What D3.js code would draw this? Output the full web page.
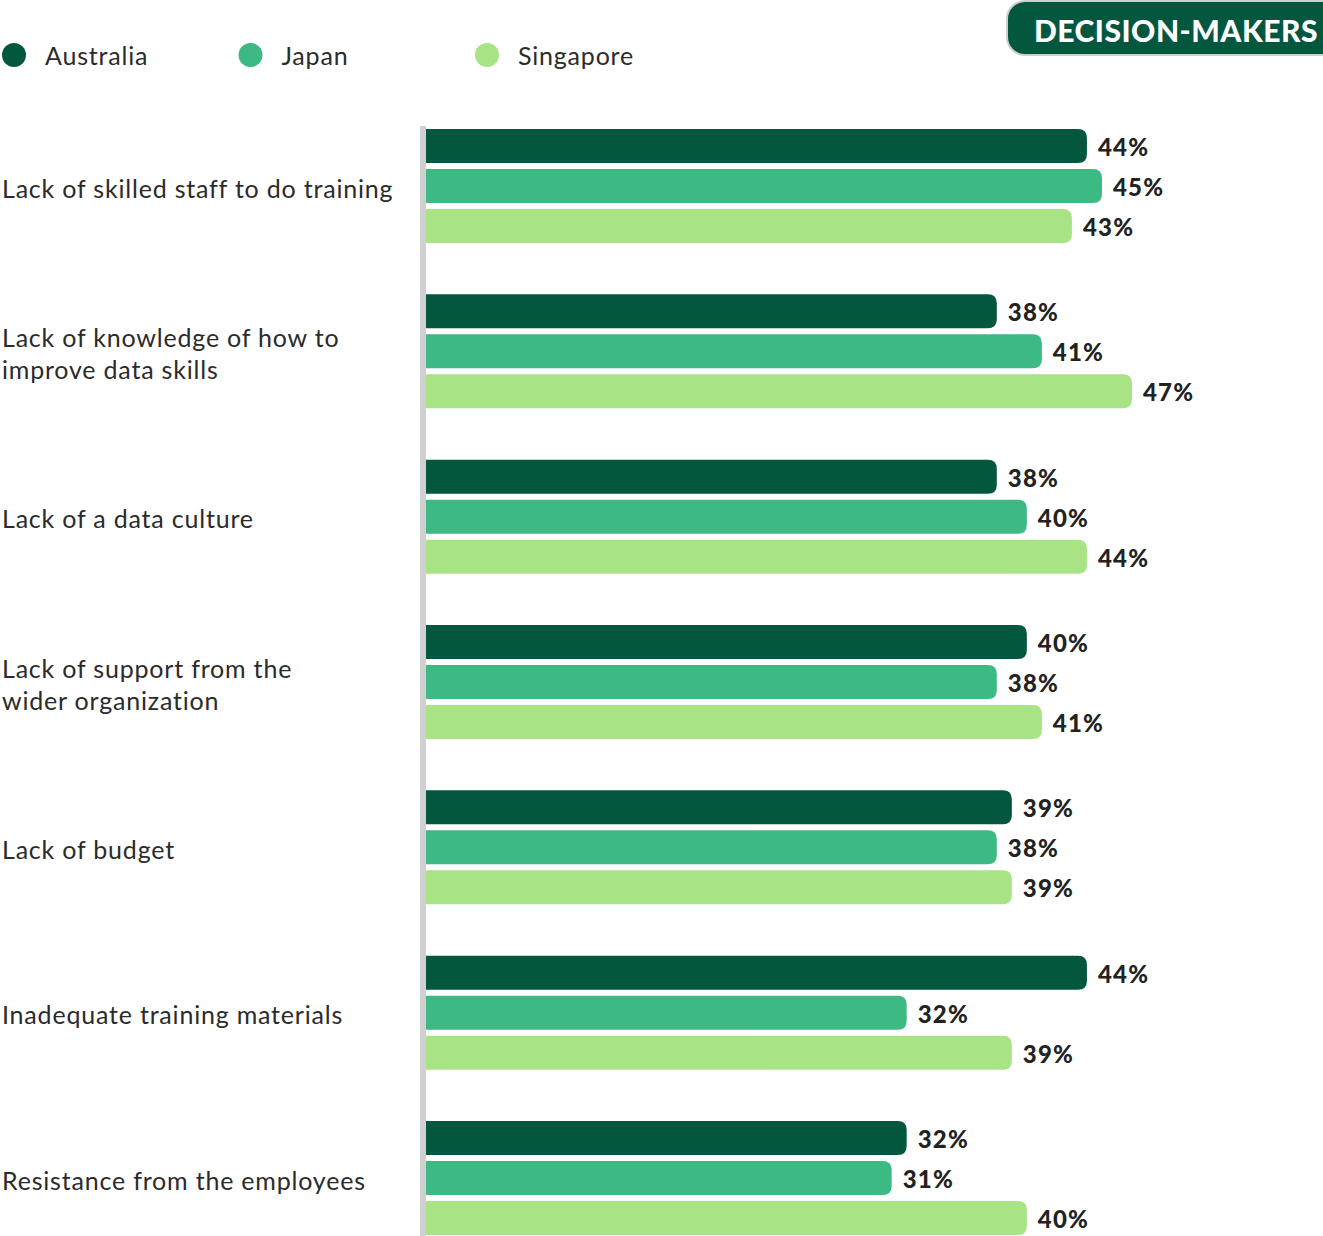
<!DOCTYPE html>
<html>
<head>
<meta charset="utf-8">
<script src="https://cdn.jsdelivr.net/npm/d3@7"></script>
<style>
  body { margin: 0; background: #fff; }
  svg { display: block; }
</style>
</head>
<body>
<svg id="chart"></svg>
<script>
// data
var categories = [
  ["Lack of skilled staff to do training"],
  ["Lack of knowledge of how to", "improve data skills"],
  ["Lack of a data culture"],
  ["Lack of support from the", "wider organization"],
  ["Lack of budget"],
  ["Inadequate training materials"],
  ["Resistance from the employees"]
];
var series = ["Australia", "Japan", "Singapore"];
var australia = [44, 38, 38, 40, 39, 44, 32];
var japan     = [45, 41, 40, 38, 38, 32, 31];
var singapore = [43, 47, 44, 41, 39, 39, 40];
var colors = ["#03573f", "#3db983", "#a8e386"];

var screen = {width: 1323, height: 1236};
var svg = d3.select("#chart")
            .attr("width", screen.width)
            .attr("height", screen.height);

var values = [australia, japan, singapore];
var rows = [];
categories.forEach(function(c, i) {
  series.forEach(function(s, j) {
    rows.push({cat: i, series: s, k: j, value: values[j][i]});
  });
});

var x = d3.scaleLinear().domain([0, 47]).range([426, 1132]);
var y0 = d3.scaleBand()
           .domain(d3.range(categories.length))
           .range([129, 1235])
           .paddingInner(0.3105)
           .paddingOuter(0);
var y1 = d3.scaleBand()
           .domain(series)
           .range([0, y0.bandwidth()])
           .paddingInner(0.15);
var color = d3.scaleOrdinal().domain(series).range(colors);

// bar with rounded right end only
var barPath = function(x0, yTop, w, h, r) {
  r = Math.min(r, w);
  return "M" + x0 + "," + yTop +
         "H" + (x0 + w - r) +
         "Q" + (x0 + w) + "," + yTop + " " + (x0 + w) + "," + (yTop + r) +
         "V" + (yTop + h - r) +
         "Q" + (x0 + w) + "," + (yTop + h) + " " + (x0 + w - r) + "," + (yTop + h) +
         "H" + x0 + "Z";
};

svg.append("g").selectAll("path")
   .data(rows)
   .enter()
   .append("path")
   .attr("d", function(d) {
     return barPath(x(0), y0(d.cat) + y1(d.series), x(d.value) - x(0), y1.bandwidth(), 9);
   })
   .attr("fill", function(d) { return color(d.series); });

svg.append("g").selectAll("text")
   .data(rows)
   .enter()
   .append("text")
   .attr("x", function(d) { return x(d.value) + 11; })
   .attr("y", function(d) { return y0(d.cat) + y1(d.series) + y1.bandwidth() / 2; })
   .attr("dy", "0.42em")
   .attr("font-family", "Lato, sans-serif")
   .attr("font-weight", 900)
   .attr("font-size", 24)
   .attr("letter-spacing", 1.2)
   .attr("fill", "#222")
   .text(function(d) { return d.value + "%"; });

// axis line
svg.append("rect")
   .attr("x", 420)
   .attr("y", 126)
   .attr("width", 6)
   .attr("height", 1110)
   .attr("fill", "#d0d0d0");

// category labels
var catLabels = svg.append("g").selectAll("text")
   .data(categories)
   .enter()
   .append("text")
   .attr("font-family", "Lato, sans-serif")
   .attr("font-size", 25)
   .attr("fill", "#2b2b2b")
   .attr("letter-spacing", 0.8)
   .attr("transform", function(d, i) {
     var mid = y0(i) + y0.bandwidth() / 2 + 3;
     return "translate(2," + (mid - (d.length - 1) * 16) + ")";
   });
catLabels.selectAll("tspan")
   .data(function(d) { return d; })
   .enter()
   .append("tspan")
   .attr("x", 0)
   .attr("y", function(d, i) { return i * 32; })
   .attr("dy", "0.35em")
   .text(function(d) { return d; });

// legend
var legend = svg.append("g").selectAll("g")
   .data(series)
   .enter()
   .append("g")
   .attr("transform", function(d, i) { return "translate(" + (14 + i * 236.5) + ",55)"; });
legend.append("circle")
   .attr("r", 12)
   .attr("fill", function(d) { return color(d); });
legend.append("text")
   .attr("x", 31)
   .attr("dy", "0.38em")
   .attr("font-family", "Lato, sans-serif")
   .attr("font-size", 25)
   .attr("fill", "#2b2b2b")
   .attr("letter-spacing", 0.8)
   .text(function(d) { return d; });

// badge
svg.append("rect")
   .attr("x", 1007)
   .attr("y", 1)
   .attr("width", 340)
   .attr("height", 54)
   .attr("rx", 18)
   .attr("fill", "#03573f")
   .attr("stroke", "#cfcfcf")
   .attr("stroke-width", 2);
svg.append("text")
   .attr("x", 1034)
   .attr("y", 42)
   .attr("font-family", "Lato, sans-serif")
   .attr("font-weight", 900)
   .attr("font-size", 30)
   .attr("letter-spacing", 0.5)
   .attr("fill", "#fff")
   .text("DECISION-MAKERS");
</script>
</body>
</html>
